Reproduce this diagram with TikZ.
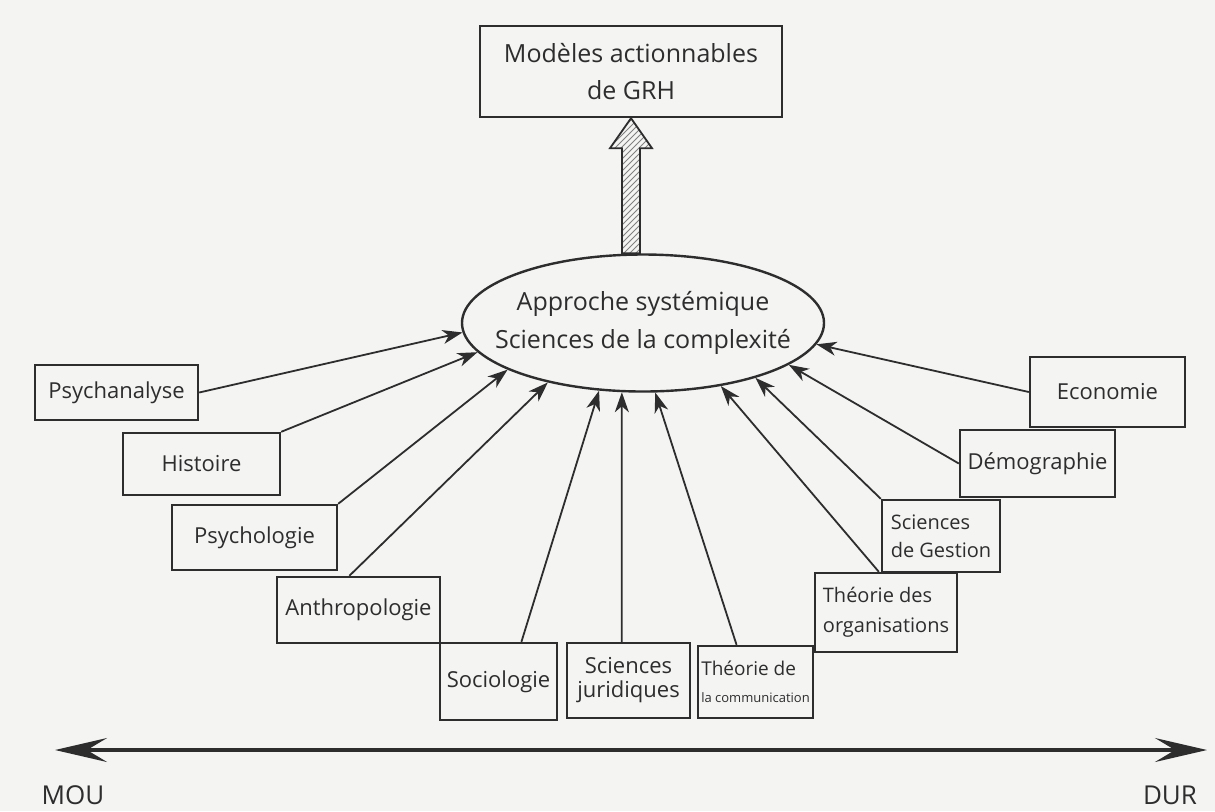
\documentclass[tikz,border=0pt]{standalone}
\usepackage{fontspec}
\setmainfont{Open Sans}
\usetikzlibrary{arrows.meta,patterns,calc,shapes.geometric}
\definecolor{paper}{RGB}{244,244,243}
\definecolor{ink}{RGB}{45,45,45}
\tikzset{
    discipline/.style={draw=ink, text=ink, line width=1.2pt, inner sep=1pt,
        font=\fontsize{11}{13}\selectfont},
    feeds/.style={draw=ink, line width=0.9pt,
        -{Stealth[length=10pt,width=7pt,inset=3pt]}},
    axis/.style={draw=ink, line width=1.6pt,
        {Stealth[length=26pt,width=12pt,inset=10pt]}-{Stealth[length=26pt,width=12pt,inset=10pt]}},
    fatarrow/.style={draw=ink, line width=0.9pt, pattern=north east lines, pattern color=ink!60}
}
\begin{document}
\begin{tikzpicture}[x=0.5pt, y=-0.5pt]
    \fill[paper] (0,0) rectangle (1215,811);
    \useasboundingbox (0,0) rectangle (1215,811);
    % top and centre
    \node[discipline, minimum width=151pt, minimum height=45.5pt, align=center,
        font=\fontsize{12.5}{18.5}\selectfont] (grh) at (631,71.5) {Modèles actionnables\\de GRH};
    \node[discipline, ellipse, minimum width=181pt, minimum height=68.5pt, inner sep=0pt, align=center,
        font=\fontsize{12.5}{19}\selectfont] (syst) at (643,323)
        {\makebox[0pt]{Approche systémique}\\\makebox[0pt]{Sciences de la complexité}};
    \coordinate (base) at (grh.south |- syst.north);
    \draw[fatarrow] (grh.south) -- ++(21,30) -- ++(-12,0) -- ($(base)+(9,0)$)
        -- ($(base)+(-9,0)$) -- ($(grh.south)+(-9,30)$) -- ++(-12,0) -- cycle;
    % left side
    \node[discipline, minimum width=81.5pt, minimum height=27.5pt] (psa) at (116.5,392.5) {Psychanalyse};
    \node[discipline, minimum width=78.5pt, minimum height=31pt] (his) at (201.5,464) {Histoire};
    \node[discipline, minimum width=82.5pt, minimum height=32.5pt] (psy) at (254.5,537.5) {Psychologie};
    \node[discipline, minimum width=81.5pt, minimum height=33pt] (ant) at (358.5,610) {Anthropologie};
    % bottom
    \node[discipline, minimum width=58.5pt, minimum height=38.5pt] (soc) at (498.5,681.5) {Sociologie};
    \node[discipline, minimum width=61.5pt, minimum height=37.5pt, align=center,
        font=\fontsize{11}{12}\selectfont] (jur) at (628.5,680.5) {Sciences\\juridiques};
    \node[discipline, minimum width=57.5pt, minimum height=36pt, align=left,
        font=\fontsize{9.5}{13.5}\selectfont] (com) at (755.5,682)
        {Théorie de\\{\fontsize{6.5}{8}\selectfont la communication}};
    % right side
    \node[discipline, minimum width=71pt, minimum height=39.5pt, align=left,
        font=\fontsize{10}{15}\selectfont] (org) at (886,612.5) {Théorie des\\organisations};
    \node[discipline, minimum width=59pt, minimum height=36pt, align=left,
        font=\fontsize{10}{14}\selectfont] (ges) at (941,536) {Sciences\\de Gestion};
    \node[discipline, minimum width=77.5pt, minimum height=33.5pt] (dem) at (1037.5,463.5) {Démographie};
    \node[discipline, minimum width=77.5pt, minimum height=35pt] (eco) at (1107.5,392) {Economie};
    % arrows into the ellipse
    \draw[feeds] (psa.east) -- (syst.183);
    \draw[feeds] (his.north east) -- (syst.190);
    \draw[feeds] (psy.north east) -- (syst.199);
    \draw[feeds] (ant.105) -- (syst.212);
    \draw[feeds] (soc.60) -- (syst.237);
    \draw[feeds] (jur.100) -- (syst.253);
    \draw[feeds] (com.117) -- (syst.280);
    \draw[feeds] (org.100) -- (syst.321);
    \draw[feeds] (ges.north west) -- (syst.334);
    \draw[feeds] (dem.west) -- (syst.344);
    \draw[feeds] (eco.west) -- (syst.353);
    % soft to hard
    \coordinate (soft) at (55,750);
    \coordinate (hard) at (1207,750);
    \draw[axis] (soft) -- (hard);
    \node[text=ink, font=\fontsize{13}{15}\selectfont] (mou) at (73,795) {MOU};
    \node[text=ink, font=\fontsize{13}{15}\selectfont] (dur) at (1170,795) {DUR};
\end{tikzpicture}
\end{document}
